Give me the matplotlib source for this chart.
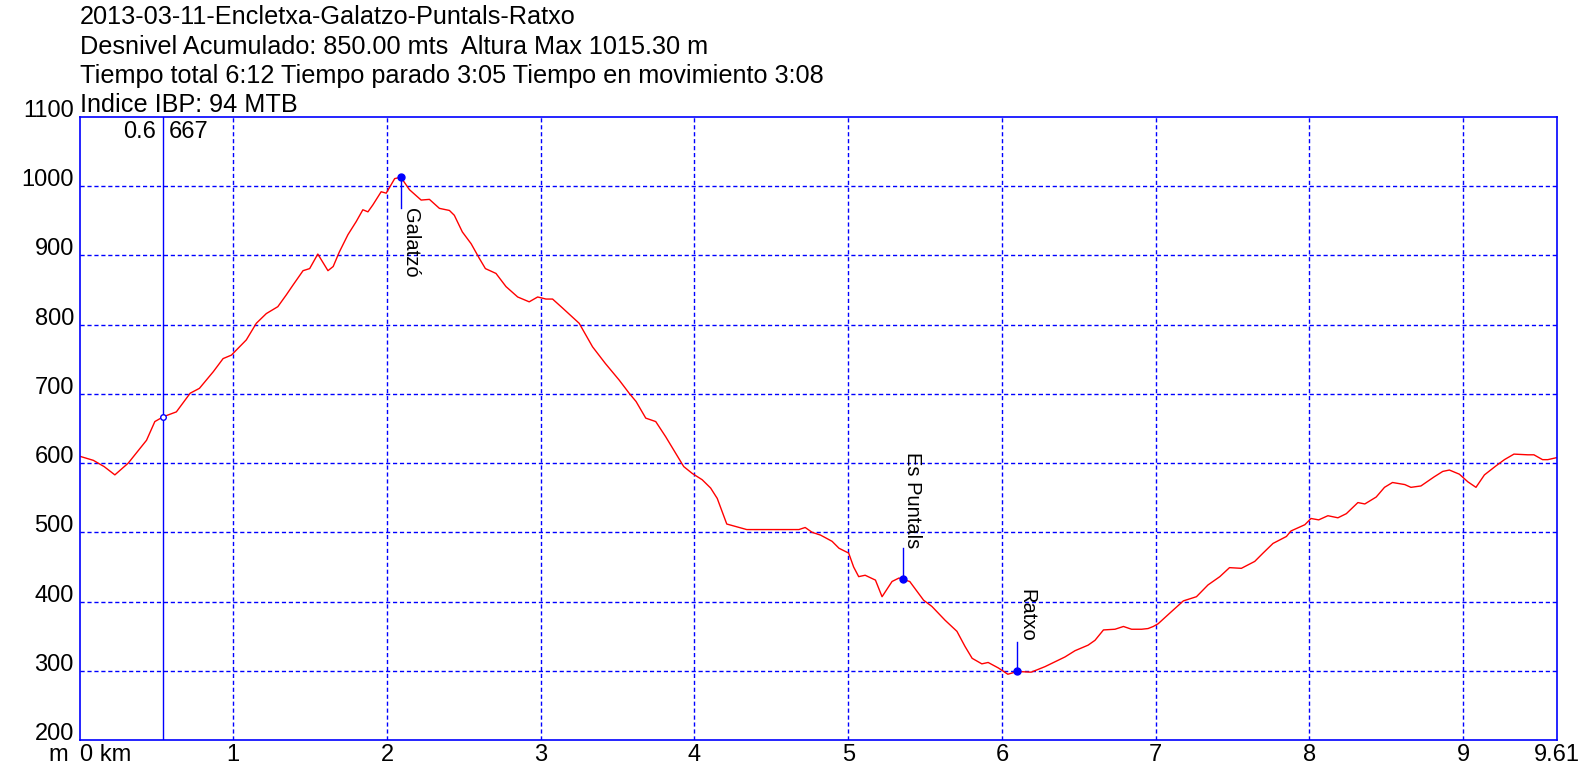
import numpy as np
import matplotlib
matplotlib.use('Agg')
import matplotlib.pyplot as plt

plt.rcParams['font.family'] = ['Liberation Sans', 'DejaVu Sans']

# title lines
titles = ['2013-03-11-Encletxa-Galatzo-Puntals-Ratxo',
          'Desnivel Acumulado: 850.00 mts  Altura Max 1015.30 m',
          'Tiempo total 6:12 Tiempo parado 3:05 Tiempo en movimiento 3:08',
          'Indice IBP: 94 MTB']

# profile (km, m)
dist = [0.00, 0.09, 0.16, 0.23, 0.317, 0.436, 0.49, 0.545, 0.63, 0.72, 0.78, 0.87,
        0.934, 0.988, 1.085, 1.15, 1.215, 1.29, 1.345, 1.388, 1.454, 1.497, 1.55,
        1.616, 1.65, 1.69, 1.746, 1.80, 1.843, 1.876, 1.908, 1.962, 1.995, 2.05,
        2.09, 2.146, 2.222, 2.276, 2.341, 2.406, 2.438, 2.49, 2.547, 2.60, 2.64,
        2.709, 2.774, 2.85, 2.925, 2.98, 3.034, 3.077, 3.142, 3.25, 3.337, 3.42,
        3.51, 3.575, 3.62, 3.683, 3.748, 3.813, 3.878, 3.93, 3.986, 4.05, 4.105,
        4.148, 4.18, 4.21, 4.34, 4.54, 4.679, 4.72, 4.765, 4.82, 4.895, 4.94,
        5.003, 5.035, 5.068, 5.11, 5.177, 5.22, 5.285, 5.33, 5.356, 5.40, 5.49,
        5.544, 5.63, 5.707, 5.76, 5.806, 5.869, 5.91, 5.977, 6.038, 6.10, 6.19,
        6.28, 6.345, 6.41, 6.475, 6.56, 6.605, 6.66, 6.735, 6.79, 6.843, 6.908,
        6.95, 6.984, 7.016, 7.08, 7.10, 7.18, 7.265, 7.34, 7.417, 7.48, 7.557,
        7.644, 7.698, 7.763, 7.85, 7.88, 7.97, 8.01, 8.06, 8.12, 8.185, 8.24,
        8.315, 8.36, 8.434, 8.488, 8.54, 8.62, 8.66, 8.725, 8.81, 8.867, 8.91,
        8.975, 9.03, 9.083, 9.138, 9.213, 9.268, 9.33, 9.42, 9.46, 9.516, 9.55,
        9.61]
elev = [610, 604, 595, 583, 600, 633, 660, 667, 674, 701, 708, 732,
        751, 756, 778, 802, 816, 826, 843, 857, 878, 881, 902,
        878, 884, 905, 930, 949, 966, 963, 973, 992, 990, 1011,
        1013, 995, 980, 981, 968, 965, 958, 934, 917, 896, 881,
        874, 855, 840, 833, 840, 837, 837, 824, 802, 768, 744,
        720, 701, 689, 665, 660, 638, 614, 595, 585, 576, 564,
        549, 530, 512, 504, 504, 504, 507, 500, 496, 487, 477,
        470, 450, 436, 438, 431, 407, 429, 434, 432, 429, 402,
        393, 373, 357, 335, 318, 310, 312, 304, 295, 299, 298,
        306, 313, 320, 329, 337, 344, 359, 360, 364, 360, 360,
        361, 364, 368, 381, 385, 401, 407, 424, 436, 449, 448,
        458, 470, 484, 494, 502, 511, 520, 518, 524, 521, 527,
        543, 541, 551, 565, 572, 569, 565, 567, 580, 588, 590,
        584, 573, 565, 583, 596, 605, 613, 612, 612, 605, 605,
        608]

# waypoints
wp_names = ['Galatzó', 'Es Puntals', 'Ratxo']
wp_dist = [2.09, 5.356, 6.10]
wp_elev = [1013, 432, 299]
wp_stem = [968, 477, 342]   # end of the blue stick
wp_down = [True, False, False]

# cursor
cur_km = 0.545
cur_elev = 667

xticks = [0, 1, 2, 3, 4, 5, 6, 7, 8, 9, 9.61]
xlabels = ['0 km', '1', '2', '3', '4', '5', '6', '7', '8', '9', '9.61']
yticks = [200, 300, 400, 500, 600, 700, 800, 900, 1000, 1100]

W, H = 1596, 778
fig = plt.figure(figsize=(W / 100, H / 100), dpi=100)
ax = fig.add_axes([79.5 / W, 1 - 740 / H, (1557 - 79.5) / W, (740 - 117) / H])

ax.set_xlim(0, 9.61)
ax.set_ylim(200, 1100)

for k in range(1, 10):
    ax.axvline(k, color='blue', linestyle=(0, (3, 2)), linewidth=1)
for v in range(300, 1100, 100):
    ax.axhline(v, color='blue', linestyle=(0, (3, 2)), linewidth=1)

ax.plot(dist, elev, color='red', linewidth=1)

# cursor line
ax.axvline(cur_km, color='blue', linewidth=1)
ax.plot([cur_km], [cur_elev], 'o', mfc='white', mec='blue', ms=4, mew=1)
ax.annotate('0.6', (cur_km, 1100), xytext=(-5, -3), textcoords='offset points',
            ha='right', va='top', fontsize=17)
ax.annotate('667', (cur_km, 1100), xytext=(4, -3), textcoords='offset points',
            ha='left', va='top', fontsize=17)

for name, d, e, s, down in zip(wp_names, wp_dist, wp_elev, wp_stem, wp_down):
    ax.plot([d, d], [e, s], color='blue', linewidth=1)
    ax.plot([d], [e], 'o', color='blue', ms=5)
    ax.text(d, s, name, rotation=-90, fontsize=14.5, ha='left',
            va='top' if down else 'bottom')

for sp in ax.spines.values():
    sp.set_color('blue')
    sp.set_linewidth(1.2)

ax.set_xticks(xticks)
ax.set_xticklabels(xlabels)
ax.tick_params(axis='x', length=0, labelsize=17, pad=3)
ax.get_xticklabels()[0].set_horizontalalignment('left')
ax.annotate('m', (0, 200), xytext=(-8, -3), textcoords='offset points',
            ha='right', va='top', fontsize=17)

# y labels sit with their baseline on the grid line
ax.set_yticks([])
ytr = ax.get_yaxis_transform()
for v in yticks:
    ax.annotate(str(v), (0, v), xycoords=ytr, xytext=(-4, 0),
                textcoords='offset points', ha='right', va='baseline',
                fontsize=17, annotation_clip=False)

baselines = [24.5, 53.5, 82.5, 112]
for t, b in zip(titles, baselines):
    fig.text(79.5 / W, 1 - b / H, t, fontsize=18.2, ha='left', va='baseline')

fig.savefig('out.png', dpi=100)
